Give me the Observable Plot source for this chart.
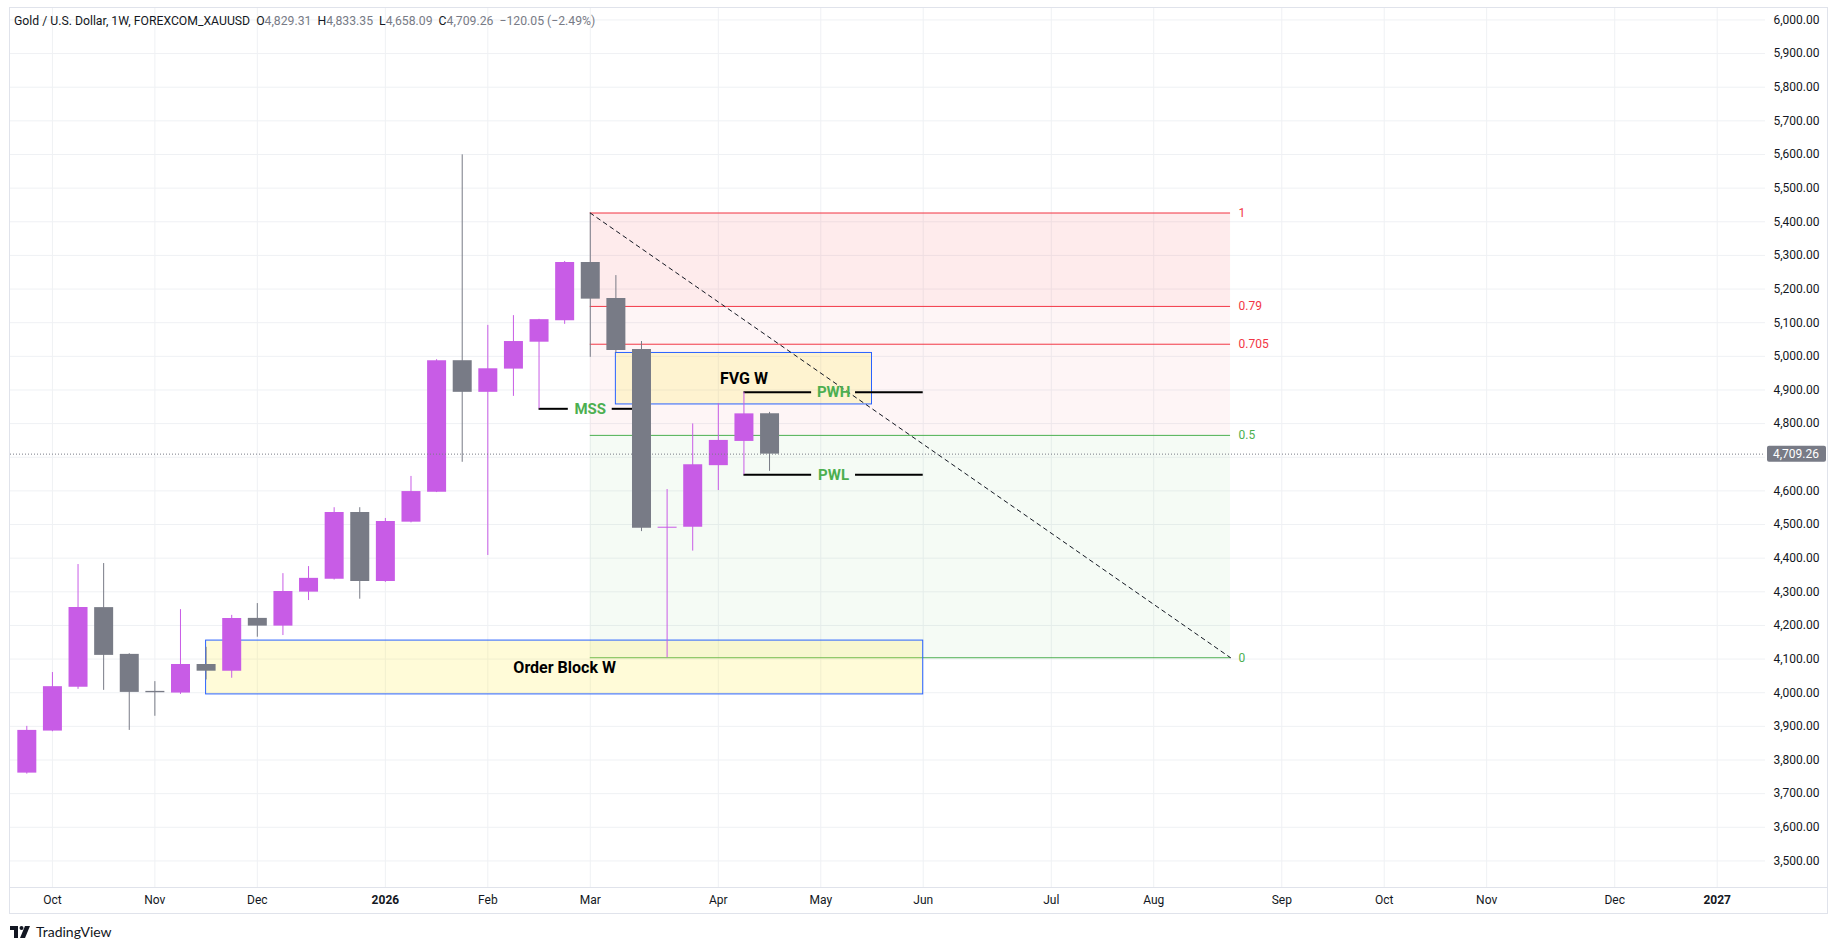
<!DOCTYPE html>
<html><head><meta charset="utf-8">
<script src="https://cdn.jsdelivr.net/npm/d3@7"></script>
<script src="https://cdn.jsdelivr.net/npm/@observablehq/plot@0.6"></script>
<style>
body{margin:0;background:#fff;font-family:Roboto,sans-serif;}
#wrap{position:relative;width:1840px;height:950px;overflow:hidden;}
#header{position:absolute;left:14px;top:13px;font-size:13px;color:#131722;white-space:pre;transform:scaleX(0.94);transform-origin:0 0;}
#header .v{color:#787b86}
#logo{position:absolute;left:10px;top:923px;display:flex;align-items:center;gap:4px;font-size:14px;color:#131722;font-family:Lato,Roboto,sans-serif}
</style></head><body>
<div id="wrap"><div id="chart"></div><div id="header"></div><div id="logo"></div></div>
<script>
// ---------- DATA ----------
const symbolTitle = "Gold / U.S. Dollar, 1W, FOREXCOM_XAUUSD";
const weekDates = ["2025-09-29","2025-10-06","2025-10-13","2025-10-20","2025-10-27","2025-11-03","2025-11-10","2025-11-17","2025-11-24","2025-12-01","2025-12-08","2025-12-15","2025-12-22","2025-12-29","2026-01-05","2026-01-12","2026-01-19","2026-01-26","2026-02-02","2026-02-09","2026-02-16","2026-02-23","2026-03-02","2026-03-09","2026-03-16","2026-03-23","2026-03-30","2026-04-06","2026-04-13","2026-04-20"];
const opens  = [3761,3886,4016,4253,4114,4004,3999,4084,4064,4221,4198,4299,4337,4536,4331,4507,4596,4987,4893,4962,5042,5106,5279,5172,5020,4489,4492,4675,4747,4829.31];
const highs  = [3900,4060,4381,4384,4116,4033,4247,4135,4230,4265,4354,4375,4550,4550,4518,4643,4990,5599,5092,5121,5110,5282,5426,5240,5044,4604,4799,4859,4893,4833.35];
const lows   = [3758,3884,4010,4007,3888,3930,3995,4038,4043,4165,4170,4274,4335,4278,4328,4505,4595,4685,4408,4881,4844,5095,4997,5010,4479,4104,4421,4601,4648,4658.09];
const closes = [3888,4018,4253,4111,4001,4000,4084,4064,4221,4198,4301,4340,4536,4331,4509,4598,4987,4893,4963,5044,5109,5279,5170,5017,4489,4492,4678,4750,4829,4709.26];
const changeText = "\u2212120.05 (\u22122.49%)";

const monthTickDates = ["2025-10-06","2025-11-03","2025-12-01","2026-01-05","2026-02-02","2026-03-02","2026-04-06","2026-05-04","2026-06-01","2026-07-06","2026-08-03","2026-09-07","2026-10-05","2026-11-02","2026-12-07","2027-01-04"];
const monthTickLabels = ["Oct","Nov","Dec","2026","Feb","Mar","Apr","May","Jun","Jul","Aug","Sep","Oct","Nov","Dec","2027"];
const yearLabels = ["2026","2027"];
const priceTicks = d3.range(3500, 6001, 100);
const xDomain = ["2025-09-24T13:00:00Z","2027-01-17T05:00:00Z"];
const yDomain = [3421, 6034];

// Fibonacci retracement
const fibStart = "2026-03-02", fibEnd = "2026-08-24";
const fibHigh = 5426, fibLow = 4104;
const fibLevels = [1, 0.79, 0.705, 0.5, 0];
const fibLabels = ["1", "0.79", "0.705", "0.5", "0"];
const fibLevelColors = ["#f23645","#f23645","#f23645","#4caf50","#4caf50"];
const fibZoneFrom = [1, 0.79, 0.5];
const fibZoneTo   = [0.79, 0.5, 0];
const fibZoneFills = ["rgba(242,54,69,0.10)","rgba(242,54,69,0.05)","rgba(76,175,80,0.055)"];

// Zones
const zoneNames = ["FVG W", "Order Block W"];
const zoneStart = ["2026-03-09", "2025-11-17"];
const zoneEnd   = ["2026-05-18", "2026-06-01"];
const zoneTop   = [5010, 4155];
const zoneBottom= [4857, 3995];

// Horizontal levels
const levelNames = ["MSS", "PWH", "PWL"];
const levelPrices = [4844, 4893, 4648];
const levelStart = ["2026-02-16", "2026-04-13", "2026-04-13"];
const levelEnd   = ["2026-03-16", "2026-06-01", "2026-06-01"];

// ---------- BUILD ----------
const UP = "#c85ce6", DOWN = "#787b86", GRID = "#eff1f4", TXT = "#131722";
const toDate = s => new Date(s.length > 10 ? s : s + "T00:00:00Z");
const candles = weekDates.map((d,i) => ({date: toDate(d), open: opens[i], high: highs[i], low: lows[i], close: closes[i]}));
const colorOf = d => d.close >= d.open ? UP : DOWN;
const fibPrice = l => fibLow + (fibHigh - fibLow) * l;
const fibRows = fibLevels.map((l,i) => ({price: fibPrice(l), label: fibLabels[i], color: fibLevelColors[i]}));
const fibZones = fibZoneFrom.map((f,i) => ({y1: fibPrice(f), y2: fibPrice(fibZoneTo[i]), fill: fibZoneFills[i]}));
const zones = zoneNames.map((n,i) => ({name:n, x1: toDate(zoneStart[i]), x2: toDate(zoneEnd[i]), y1: zoneBottom[i], y2: zoneTop[i]}));
const DAY = 864e5, gapDays = 6;
const levels = levelNames.map((n,i) => {
  const a = toDate(levelStart[i]), b = toDate(levelEnd[i]);
  const mid = new Date((+a + +b)/2);
  return {name:n, price: levelPrices[i], a, b, mid};
});
const levelSegs = levels.flatMap(l => [
  {x1: l.a, x2: new Date(+l.mid - gapDays*DAY), y: l.price},
  {x1: new Date(+l.mid + gapDays*DAY), x2: l.b, y: l.price}
]);
const last = candles[candles.length-1];
const fmt = d3.format(",.2f");
const tickMap = new Map(monthTickDates.map((d,i) => [+toDate(d), monthTickLabels[i]]));

const chart = Plot.plot({
  width: 1840, height: 915,
  marginLeft: 10, marginRight: 75, marginTop: 8, marginBottom: 28,
  style: {fontFamily: "Roboto, sans-serif", fontSize: "12px", color: TXT, background: "transparent"},
  x: {type: "utc", domain: xDomain.map(toDate)},
  y: {domain: yDomain},
  marks: [
    Plot.gridY(priceTicks, {stroke: GRID, strokeOpacity: 1}),
    Plot.gridX(monthTickDates.map(toDate), {stroke: GRID, strokeOpacity: 1}),
    // fib zones
    Plot.rect(fibZones, {x1: () => toDate(fibStart), x2: () => toDate(fibEnd), y1: "y1", y2: "y2", fill: "fill"}),
    Plot.ruleY(fibRows, {y: "price", x1: () => toDate(fibStart), x2: () => toDate(fibEnd), stroke: "color", strokeWidth: 1}),
    Plot.text(fibRows, {x: () => toDate(fibEnd), y: "price", text: "label", fill: "color", dx: 8, textAnchor: "start", fontSize: 12}),
    // zones
    Plot.rect(zones, {x1: "x1", x2: "x2", y1: "y1", y2: "y2", fill: "rgba(255,235,59,0.2)", stroke: "#2962ff", strokeWidth: 1}),
    // level lines
    Plot.ruleY(levelSegs, {y: "y", x1: "x1", x2: "x2", stroke: "#000", strokeWidth: 2}),
    // candles
    Plot.ruleX(candles, {x: "date", y1: "low", y2: "high", stroke: colorOf, strokeWidth: 1}),
    Plot.ruleX(candles, {x: "date", y1: "open", y2: "close", stroke: colorOf, strokeWidth: 19}),
    // diagonal
    Plot.line([{x: toDate(fibStart), y: fibHigh}, {x: toDate(fibEnd), y: fibLow}], {x: "x", y: "y", stroke: "#131722", strokeWidth: 1, strokeDasharray: "4,4"}),
    // current price line
    Plot.ruleY([last.close], {stroke: "#787b86", strokeWidth: 1, strokeDasharray: "1,2"}),
    // labels
    Plot.text(zones, {x: d => new Date((+d.x1 + +d.x2)/2), y: d => (d.y1 + d.y2)/2, text: "name", fill: "#000", fontSize: 16, fontWeight: "bold"}),
    Plot.text(levels, {x: "mid", y: "price", text: "name", fill: "#4caf50", fontSize: 15, fontWeight: "bold"}),
    // axes
    Plot.axisY(priceTicks.filter(v => Math.abs(v - last.close) > 40), {anchor: "right", tickSize: 0, tickPadding: 8, tickFormat: fmt, fontSize: 12, fill: TXT}),
    Plot.axisX(monthTickDates.map(toDate), {anchor: "bottom", tickSize: 0, tickPadding: 8, tickFormat: d => tickMap.get(+d), fontSize: 12, fill: TXT})
  ]
});
document.getElementById("chart").appendChild(chart);

// chrome: frame, separator, price tag
const svg = d3.select(chart);
const xr = chart.scale("x").range, yr = chart.scale("y").range;
svg.append("rect").attr("x", xr[0]-0.5).attr("y", yr[1]-0.5).attr("width", 1828 - xr[0]).attr("height", 914 - yr[1])
  .attr("fill","none").attr("stroke","#e0e3eb");
svg.append("line").attr("x1", xr[0]-0.5).attr("x2", 1827.5).attr("y1", yr[0]+0.5).attr("y2", yr[0]+0.5).attr("stroke","#e0e3eb");
const yy = chart.scale("y").apply(last.close);
svg.append("rect").attr("x", xr[1]+2).attr("y", yy-8).attr("width", 59).attr("height", 16).attr("rx", 2).attr("fill", "#787b86");
svg.append("text").attr("x", xr[1]+8).attr("y", yy).attr("dy","0.35em").attr("fill","#fff").attr("text-anchor","start")
  .attr("font-size", 12).attr("font-family","Roboto, sans-serif").text(fmt(last.close));
svg.selectAll("text").filter(function(){ return yearLabels.includes(this.textContent); }).attr("font-weight","bold");

// header
const f2 = d3.format(",.2f");
document.getElementById("header").innerHTML =
  `${symbolTitle}  O<span class="v">${f2(last.open)}</span>  H<span class="v">${f2(last.high)}</span>  L<span class="v">${f2(last.low)}</span>  C<span class="v">${f2(last.close)}</span>  <span class="v">${changeText}</span>`;
// logo
document.getElementById("logo").innerHTML =
  `<svg width="22" height="12" viewBox="0 0 22 12"><path d="M0 0h8v12H4V4H0z" fill="#131722"/><circle cx="11.5" cy="2" r="2" fill="#131722"/><path d="M15 0h5l-5 12h-5z" fill="#131722"/></svg><span>TradingView</span>`;
</script>
</body></html>
